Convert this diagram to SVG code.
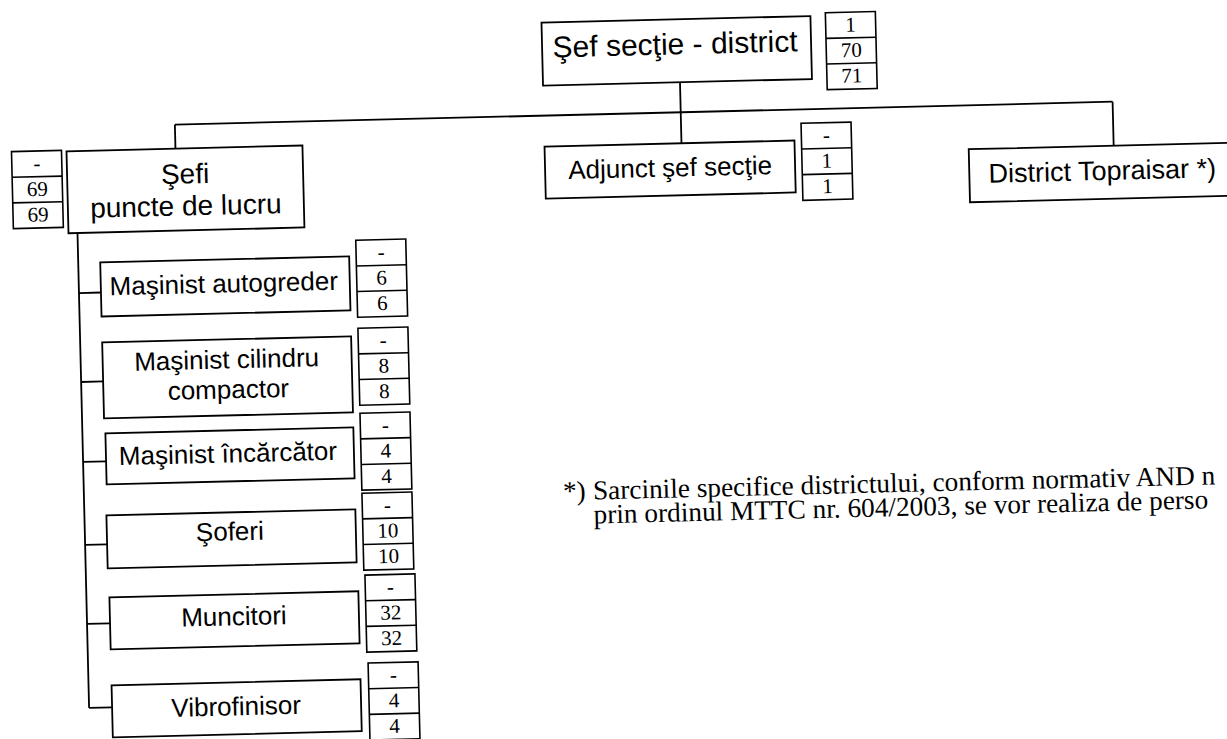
<svg xmlns="http://www.w3.org/2000/svg" xmlns:xlink="http://www.w3.org/1999/xlink" width="1227" height="739" viewBox="0 0 1227 739">
  <style>
    .box { fill: #ffffff; stroke: #000; stroke-width: 1.8; }
    .cnt { fill: #ffffff; stroke: #000; stroke-width: 1.6; }
    .ln { fill: none; stroke: #000; stroke-width: 1.8; }
    .lbl { font-family: "Liberation Sans", Arial, sans-serif; fill: #000; text-anchor: middle; }
    .num { font-family: "Liberation Serif", "Times New Roman", serif; font-size: 21px; fill: #000; text-anchor: middle; }
    .note { font-family: "Liberation Serif", "Times New Roman", serif; font-size: 27.3px; fill: #000; }
  </style>
  <defs>
    <g id="cbox">
      <rect class="cnt" x="0" y="0" width="50" height="77"/>
      <line class="cnt" x1="0" y1="25.7" x2="50" y2="25.7"/>
      <line class="cnt" x1="0" y1="51.3" x2="50" y2="51.3"/>
    </g>
  </defs>
  <rect x="0" y="0" width="1227" height="739" fill="#ffffff"/>
  <g transform="rotate(-1.4 613 370)">
    <g id="connectors">
      <line class="ln" x1="687" y1="84" x2="687" y2="145"/>
      <line class="ln" x1="181" y1="114" x2="1119" y2="114"/>
      <line class="ln" x1="181" y1="114" x2="181" y2="138"/>
      <line class="ln" x1="1119" y1="114" x2="1119" y2="158"/>
      <line class="ln" x1="81" y1="220" x2="81" y2="695"/>
      <line class="ln" x1="81" y1="280" x2="103" y2="280"/>
      <line class="ln" x1="81" y1="369" x2="103" y2="369"/>
      <line class="ln" x1="81" y1="449" x2="104" y2="449"/>
      <line class="ln" x1="81" y1="532" x2="103" y2="532"/>
      <line class="ln" x1="81" y1="611" x2="104" y2="611"/>
      <line class="ln" x1="81" y1="695" x2="104" y2="695"/>
    </g>

    <g id="sef-sectie">
      <rect class="box" x="550" y="21" width="269" height="63"/>
      <text class="lbl" x="683" y="56" font-size="30">Şef secţie - district</text>
      <use xlink:href="#cbox" x="834" y="18"/>
      <text class="num" x="859" y="37.5">1</text>
      <text class="num" x="859" y="63">70</text>
      <text class="num" x="859" y="88.5">71</text>
    </g>

    <g id="sefi-puncte">
      <rect class="box" x="72" y="138" width="236" height="82"/>
      <text class="lbl" x="190" y="173" font-size="28">Şefi</text>
      <text class="lbl" x="190" y="205" font-size="28">puncte de lucru</text>
      <use xlink:href="#cbox" x="17" y="137"/>
      <text class="num" x="42" y="156.5">-</text>
      <text class="num" x="42" y="182">69</text>
      <text class="num" x="42" y="207.5">69</text>
    </g>

    <g id="adjunct">
      <rect class="box" x="550" y="145" width="250" height="52"/>
      <text class="lbl" x="675" y="178" font-size="26">Adjunct şef secţie</text>
      <use xlink:href="#cbox" x="807" y="128"/>
      <text class="num" x="832" y="147.5">-</text>
      <text class="num" x="832" y="173">1</text>
      <text class="num" x="832" y="198.5">1</text>
    </g>

    <g id="district">
      <rect class="box" x="974" y="158" width="320" height="53"/>
      <text class="lbl" x="1107" y="192" font-size="27">District Topraisar *)</text>
    </g>

    <g id="autogreder">
      <rect class="box" x="103" y="250" width="249" height="54"/>
      <text class="lbl" x="226" y="283" font-size="26">Maşinist autogreder</text>
      <use xlink:href="#cbox" x="359" y="234"/>
      <text class="num" x="384" y="253.5">-</text>
      <text class="num" x="384" y="279">6</text>
      <text class="num" x="384" y="304.5">6</text>
    </g>

    <g id="cilindru">
      <rect class="box" x="103" y="330" width="249" height="76"/>
      <text class="lbl" x="227" y="359" font-size="26">Maşinist cilindru</text>
      <text class="lbl" x="228" y="389" font-size="26">compactor</text>
      <use xlink:href="#cbox" x="359" y="322"/>
      <text class="num" x="384" y="341.5">-</text>
      <text class="num" x="384" y="367">8</text>
      <text class="num" x="384" y="392.5">8</text>
    </g>

    <g id="incarcator">
      <rect class="box" x="104" y="421" width="248" height="51"/>
      <text class="lbl" x="226" y="453" font-size="26">Maşinist încărcător</text>
      <use xlink:href="#cbox" x="359" y="407"/>
      <text class="num" x="384" y="426.5">-</text>
      <text class="num" x="384" y="452">4</text>
      <text class="num" x="384" y="477.5">4</text>
    </g>

    <g id="soferi">
      <rect class="box" x="103" y="503" width="249" height="53"/>
      <text class="lbl" x="226" y="531" font-size="26">Şoferi</text>
      <use xlink:href="#cbox" x="359" y="487"/>
      <text class="num" x="384" y="506.5">-</text>
      <text class="num" x="384" y="532">10</text>
      <text class="num" x="384" y="557.5">10</text>
    </g>

    <g id="muncitori">
      <rect class="box" x="104" y="585" width="249" height="52"/>
      <text class="lbl" x="228" y="616" font-size="26">Muncitori</text>
      <use xlink:href="#cbox" x="360" y="569"/>
      <text class="num" x="385" y="588.5">-</text>
      <text class="num" x="385" y="614">32</text>
      <text class="num" x="385" y="639.5">32</text>
    </g>

    <g id="vibrofinisor">
      <rect class="box" x="104" y="673" width="249" height="52"/>
      <text class="lbl" x="228" y="706" font-size="26">Vibrofinisor</text>
      <use xlink:href="#cbox" x="361" y="657"/>
      <text class="num" x="386" y="676.5">-</text>
      <text class="num" x="386" y="702">4</text>
      <text class="num" x="386" y="727.5">4</text>
    </g>

    <g id="footnote">
      <text class="note" x="560" y="499">*)</text>
      <text class="note" x="590" y="499">Sarcinile specifice districtului, conform normativ AND n</text>
      <text class="note" x="590" y="523">prin ordinul MTTC nr. 604/2003, se vor realiza de perso</text>
    </g>
  </g>
</svg>
